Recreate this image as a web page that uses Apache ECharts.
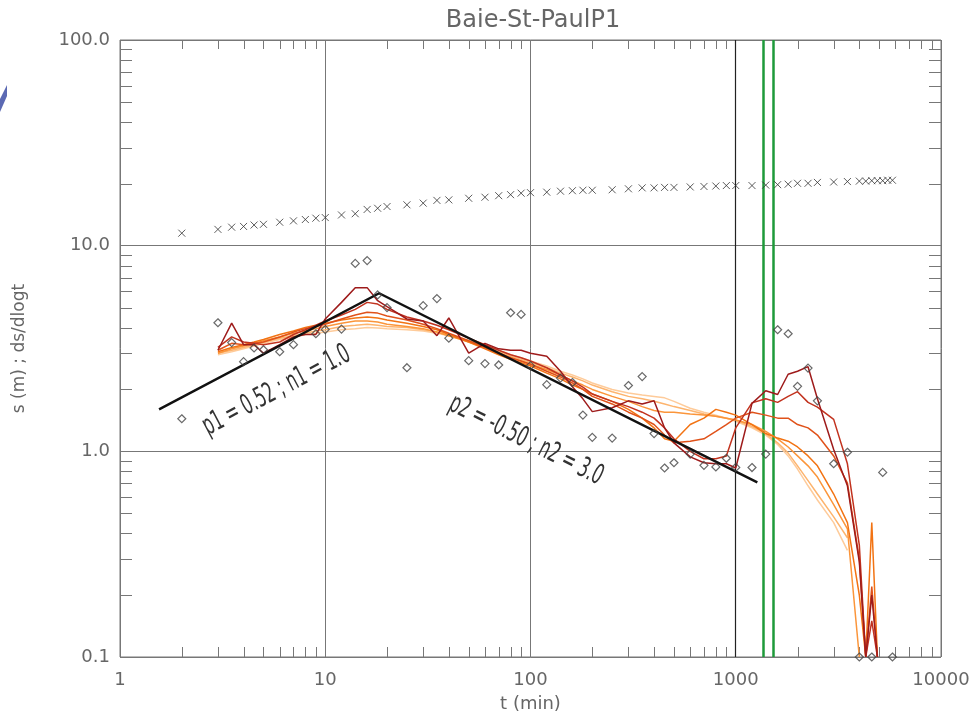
<!DOCTYPE html>
<html>
<head>
<meta charset="utf-8">
<title>Baie-St-PaulP1</title>
<script src="https://cdn.jsdelivr.net/npm/echarts@6/dist/echarts.min.js"></script>
<style>
  html, body { margin: 0; padding: 0; background: #fff; }
  #chart { width: 975px; height: 721px; }
</style>
</head>
<body>
<div id="chart"></div>
<script>
// rabattement s (croix), t en minutes
const tDrawdown = [2, 3, 3.5, 4, 4.5, 5, 6, 7, 8, 9, 10, 12, 14, 16, 18, 20, 25, 30, 35, 40, 50, 60, 70, 80, 90,
  100, 120, 140, 160, 180, 200, 250, 300, 350, 400, 450, 500, 600, 700, 800, 900, 1000, 1200, 1400, 1600, 1800,
  2000, 2250, 2500, 3000, 3500, 4000, 4300, 4600, 4900, 5200, 5500, 5800];
const sDrawdown = [11.5, 12.0, 12.3, 12.4, 12.6, 12.7, 13.0, 13.2, 13.4, 13.6, 13.7, 14.1, 14.3, 15.0, 15.2, 15.5,
  15.8, 16.1, 16.6, 16.7, 17.0, 17.2, 17.5, 17.7, 18.0, 18.1, 18.2, 18.4, 18.5, 18.6, 18.6, 18.7, 18.9, 19.1, 19.1,
  19.2, 19.2, 19.3, 19.4, 19.5, 19.6, 19.6, 19.6, 19.7, 19.8, 19.9, 20.1, 20.1, 20.3, 20.4, 20.5, 20.6, 20.6, 20.7,
  20.7, 20.7, 20.8, 20.8];

// derivee ds/dlogt (losanges)
const tDeriv = [2, 3, 3.5, 4, 4.5, 5, 6, 7, 9, 10, 12, 14, 16, 18, 20, 25, 30, 35, 40, 50, 60, 70, 80, 90, 100,
  120, 140, 160, 180, 200, 250, 300, 350, 400, 450, 500, 600, 700, 800, 900, 1000, 1200, 1400, 1600, 1800, 2000,
  2250, 2500, 3000, 3500, 4000, 4600, 5200, 5800];
const dDeriv = [1.44, 4.22, 3.38, 2.73, 3.18, 3.12, 3.05, 3.30, 3.73, 3.91, 3.93, 8.2, 8.46, 5.76, 5.0, 2.55, 5.11,
  5.53, 3.55, 2.76, 2.67, 2.63, 4.72, 4.63, 2.61, 2.11, 2.27, 2.16, 1.50, 1.17, 1.16, 2.09, 2.31, 1.22, 0.83, 0.88,
  0.97, 0.855, 0.84, 0.925, 0.835, 0.834, 0.97, 3.9, 3.73, 2.07, 2.54, 1.76, 0.87, 0.99, 0.1, 0.1, 0.79, 0.1];

// derivees lissees (courbes), meme grille de temps
const tSmooth = [3, 3.5, 4, 4.5, 5, 6, 7, 8, 9, 10, 12, 14, 16, 18, 20, 25, 30, 35, 40, 50, 60, 70, 80, 90, 100,
  120, 140, 160, 180, 200, 250, 300, 350, 400, 450, 500, 600, 700, 800, 900, 1000, 1200, 1400, 1600, 1800, 2000,
  2250, 2500, 3000, 3500, 4000, 4300, 4600, 4900];
const smooth1 = [3.1, 4.2, 3.3, 3.3, 3.0, 3.3, 3.6, 3.7, 3.7, 4.4, 5.3, 6.25, 6.25, 5.4, 5.05, 4.4, 4.3, 3.65, 4.45,
  3.0, 3.35, 3.15, 3.1, 3.1, 3.0, 2.9, 2.45, 2.06, 1.8, 1.56, 1.63, 1.76, 1.7, 1.76, 1.3, 1.1, 0.94, 0.88, 0.87,
  0.87, 0.83, 1.71, 1.97, 1.89, 2.37, 2.45, 2.58, 1.8, 1.02, 0.68, 0.29, 0.1, 0.2, 0.1];
const smooth2 = [3.2, 3.6, 3.4, 3.35, 3.3, 3.4, 3.7, 3.9, 4.1, 4.3, 4.6, 4.9, 5.3, 5.2, 4.9, 4.5, 4.3, 4.1, 3.9,
  3.55, 3.3, 3.1, 2.95, 2.85, 2.75, 2.55, 2.35, 2.2, 2.05, 1.9, 1.75, 1.65, 1.55, 1.45, 1.3, 1.15, 1.0, 0.92, 0.92,
  0.95, 1.3, 1.72, 1.8, 1.73, 1.85, 1.95, 1.73, 1.64, 1.43, 0.87, 0.35, 0.1, 0.15, 0.1];
const smooth3 = [3.1, 3.35, 3.3, 3.35, 3.4, 3.6, 3.8, 3.95, 4.05, 4.15, 4.4, 4.6, 4.75, 4.7, 4.55, 4.35, 4.15, 3.95,
  3.75, 3.45, 3.2, 3.0, 2.85, 2.75, 2.65, 2.45, 2.3, 2.15, 2.0, 1.85, 1.7, 1.55, 1.45, 1.35, 1.2, 1.1, 1.12, 1.15,
  1.25, 1.35, 1.45, 1.55, 1.5, 1.45, 1.45, 1.35, 1.3, 1.2, 0.95, 0.7, 0.3, 0.1, 0.22, 0.1];
const smooth4 = [3.05, 3.2, 3.3, 3.4, 3.5, 3.7, 3.85, 4.0, 4.1, 4.2, 4.35, 4.45, 4.5, 4.45, 4.35, 4.2, 4.05, 3.9,
  3.7, 3.4, 3.15, 2.95, 2.8, 2.7, 2.6, 2.4, 2.25, 2.1, 2.0, 1.9, 1.75, 1.6, 1.45, 1.3, 1.15, 1.12, 1.35, 1.45, 1.6,
  1.55, 1.5, 1.35, 1.22, 1.16, 1.12, 1.05, 0.95, 0.85, 0.62, 0.45, 0.2, 0.1, 0.45, 0.1];
const smooth5 = [3.0, 3.15, 3.25, 3.35, 3.45, 3.6, 3.75, 3.85, 3.95, 4.05, 4.2, 4.3, 4.3, 4.25, 4.15, 4.05, 3.95,
  3.8, 3.65, 3.4, 3.2, 3.0, 2.85, 2.75, 2.65, 2.5, 2.35, 2.2, 2.1, 2.0, 1.85, 1.75, 1.65, 1.58, 1.55, 1.55, 1.52,
  1.5, 1.48, 1.45, 1.42, 1.35, 1.25, 1.15, 1.05, 0.95, 0.85, 0.75, 0.55, 0.42, 0.1, null, null, null];
const smooth6 = [3.0, 3.1, 3.2, 3.3, 3.4, 3.55, 3.65, 3.75, 3.85, 3.9, 4.05, 4.1, 4.15, 4.1, 4.05, 4.0, 3.9, 3.8,
  3.65, 3.45, 3.25, 3.05, 2.9, 2.8, 2.7, 2.55, 2.4, 2.3, 2.2, 2.1, 1.95, 1.85, 1.8, 1.75, 1.7, 1.65, 1.58, 1.52,
  1.48, 1.45, 1.42, 1.32, 1.22, 1.1, 0.98, 0.85, 0.72, 0.62, 0.48, 0.38, null, null, null, null];
const smooth7 = [2.95, 3.05, 3.15, 3.25, 3.35, 3.5, 3.6, 3.7, 3.75, 3.8, 3.9, 3.95, 4.0, 3.98, 3.95, 3.9, 3.85,
  3.75, 3.65, 3.45, 3.3, 3.1, 2.95, 2.85, 2.75, 2.6, 2.45, 2.35, 2.25, 2.15, 2.0, 1.92, 1.88, 1.85, 1.82, 1.75,
  1.62, 1.55, 1.5, 1.45, 1.4, 1.3, 1.2, 1.08, 0.95, 0.82, 0.68, 0.58, 0.45, 0.33, null, null, null, null];
const smoothSeries = [smooth7, smooth6, smooth5, smooth4, smooth3, smooth2, smooth1];
const smoothColors = ["#fecb9a", "#fdb46e", "#fb953a", "#f27313", "#e0521a", "#c2331f", "#9e1b1b"];

// droites d'ajustement
const fitT = [1.55, 18.3, 1274];
const fitS = [1.6, 5.87, 0.706];
const fitLabels = ["p1 = 0.52 ; n1 = 1.0", "p2 = -0.50 ; n2 = 3.0"];
const fitLabelT = [5.8, 95];
const fitLabelS = [1.97, 1.13];

// reperes verticaux
const markT = [1000, 1358, 1524];
const markColors = ["#222", "#1e9a3a", "#1e9a3a"];

// graduations secondaires
const xMinorTicks = [2, 3, 4, 5, 6, 7, 8, 9, 20, 30, 40, 50, 60, 70, 80, 90, 200, 300, 400, 500, 600, 700, 800,
  900, 2000, 3000, 4000, 5000, 6000, 7000, 8000, 9000];
const yMinorTicks = [0.2, 0.3, 0.4, 0.5, 0.6, 0.7, 0.8, 0.9, 2, 3, 4, 5, 6, 7, 8, 9, 20, 30, 40, 50, 60, 70, 80, 90];

const chart = echarts.init(document.getElementById("chart"));

const tickStyle = { stroke: "#777", lineWidth: 1 };
const tickSeries = (values, dir) => ({
  type: "custom",
  silent: true,
  z: 1,
  data: values.map((v) => (dir === "x" ? [v, 1] : [1, v])),
  renderItem: (params, api) => {
    const cs = params.coordSys;
    const p = api.coord([api.value(0), api.value(1)]);
    if (dir === "x") {
      const x = Math.round(p[0]) + 0.5;
      return {
        type: "group",
        children: [
          { type: "line", shape: { x1: x, y1: cs.y + cs.height, x2: x, y2: cs.y + cs.height - 10 }, style: tickStyle },
          { type: "line", shape: { x1: x, y1: cs.y, x2: x, y2: cs.y + 9 }, style: tickStyle },
        ],
      };
    }
    const y = Math.round(p[1]) + 0.5;
    return {
      type: "group",
      children: [
        { type: "line", shape: { x1: cs.x, y1: y, x2: cs.x + 12, y2: y }, style: tickStyle },
        { type: "line", shape: { x1: cs.x + cs.width, y1: y, x2: cs.x + cs.width - 12, y2: y }, style: tickStyle },
      ],
    };
  },
});

const series = [tickSeries(xMinorTicks, "x"), tickSeries(yMinorTicks, "y")];

smoothSeries.forEach((vals, i) => {
  series.push({
    type: "line",
    data: tSmooth.map((t, k) => [t, vals[k]]),
    showSymbol: false,
    connectNulls: false,
    lineStyle: { color: smoothColors[i], width: 1.5 },
    z: 3 + i,
  });
});

series.push({
  type: "line",
  data: fitT.map((t, k) => [t, fitS[k]]),
  showSymbol: false,
  lineStyle: { color: "#111", width: 2.5 },
  z: 12,
  markLine: {
    silent: true,
    symbol: "none",
    label: { show: false },
    data: markT.map((t, k) => ({
      xAxis: t,
      lineStyle: { color: markColors[k], width: k === 0 ? 1.2 : 2.5, type: "solid" },
    })),
  },
});

series.push({
  type: "scatter",
  data: tDrawdown.map((t, k) => [t, sDrawdown[k]]),
  symbol: "path://M0,0L10,10M10,0L0,10",
  symbolSize: 7,
  itemStyle: { color: "none", borderColor: "#333", borderWidth: 1 },
  z: 14,
});

series.push({
  type: "scatter",
  data: tDeriv.map((t, k) => [t, dDeriv[k]]),
  symbol: "diamond",
  symbolSize: 8,
  itemStyle: { color: "none", borderColor: "#444", borderWidth: 1.2 },
  z: 15,
});

const axisFont = { fontFamily: "DejaVu Sans", fontSize: 18, color: "#666" };

chart.setOption({
  animation: false,
  backgroundColor: "#fff",
  title: {
    text: "Baie-St-PaulP1",
    left: 528,
    top: 4,
    textAlign: "center",
    textStyle: { fontFamily: "DejaVu Sans", fontSize: 24, fontWeight: "normal", color: "#666" },
  },
  grid: {
    left: 120,
    right: 34,
    top: 40,
    bottom: 64,
    show: true,
    borderColor: "#777",
    borderWidth: 1,
  },
  xAxis: {
    type: "log",
    logBase: 10,
    min: 1,
    max: 10000,
    name: "t (min)",
    nameLocation: "middle",
    nameGap: 38,
    nameTextStyle: axisFont,
    axisLine: { show: false },
    axisTick: { show: false },
    axisLabel: { ...axisFont, margin: 14, formatter: (v) => String(Math.round(v)) },
    splitLine: { show: true, lineStyle: { color: "#777", width: 1 } },
  },
  yAxis: {
    type: "log",
    logBase: 10,
    min: 0.1,
    max: 100,
    name: "s (m) ; ds/dlogt",
    nameLocation: "middle",
    nameGap: 92,
    nameTextStyle: { ...axisFont, fontSize: 17 },
    axisLine: { show: false },
    axisTick: { show: false },
    axisLabel: { ...axisFont, margin: 10, formatter: (v) => Number(v).toFixed(1) },
    splitLine: { show: true, lineStyle: { color: "#777", width: 1 } },
  },
  series: series,
});

// etiquettes des droites, alignees sur leur pente
const p0 = chart.convertToPixel({ gridIndex: 0 }, [fitT[0], fitS[0]]);
const p1 = chart.convertToPixel({ gridIndex: 0 }, [fitT[1], fitS[1]]);
const p2 = chart.convertToPixel({ gridIndex: 0 }, [fitT[2], fitS[2]]);
const angles = [
  -Math.atan2(p1[1] - p0[1], p1[0] - p0[0]),
  -Math.atan2(p2[1] - p1[1], p2[0] - p1[0]),
];
chart.setOption({
  graphic: [
    {
      type: "polygon",
      shape: { points: [[0, 99], [7, 85], [7, 96], [0, 112]] },
      style: { fill: "#5b69b3" },
    },
  ].concat(
    fitLabels.map((txt, i) => {
      const c = chart.convertToPixel({ gridIndex: 0 }, [fitLabelT[i], fitLabelS[i]]);
      // groupe tourne, texte comprime dans son propre repere (pas de cisaillement)
      return {
        type: "group",
        x: c[0],
        y: c[1],
        rotation: angles[i],
        z: 20,
        children: [
          {
            type: "text",
            scaleX: 0.63,
            style: {
              text: txt,
              fontFamily: "DejaVu Sans Condensed, DejaVu Sans",
              fontSize: 28,
              fill: "#333",
              align: "center",
              verticalAlign: "middle",
            },
          },
        ],
      };
    })
  ),
});
</script>
</body>
</html>
